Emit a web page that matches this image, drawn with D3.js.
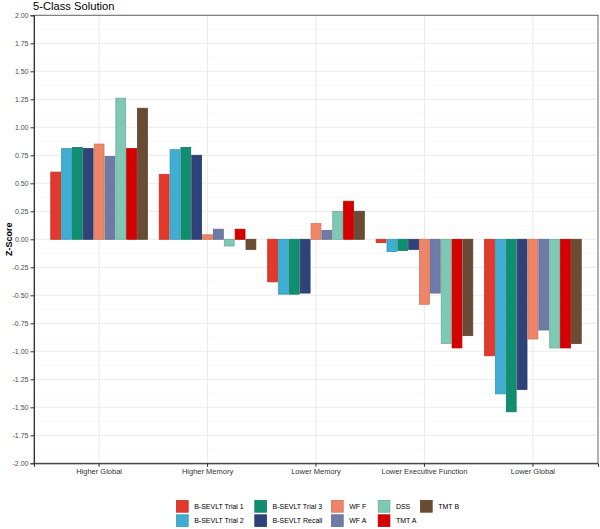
<!DOCTYPE html>
<html>
<head>
<meta charset="utf-8">
<script src="https://cdn.jsdelivr.net/npm/d3@7"></script>
<style>
  body { margin: 0; background: #fff; }
  svg { font-family: "Liberation Sans", Arial, sans-serif; }
</style>
</head>
<body>
<div id="chart"></div>
<script>
var categories = ["Higher Global", "Higher Memory", "Lower Memory", "Lower Executive Function", "Lower Global"];
var seriesNames = ["B-SEVLT Trial 1", "B-SEVLT Trial 2", "B-SEVLT Trial 3", "B-SEVLT Recall", "WF F", "WF A", "DSS", "TMT A", "TMT B"];
var seriesColors = ["#E2392D", "#3FAED2", "#0F8F70", "#2F4279", "#EF8568", "#6F7BA6", "#7EC8B4", "#D40000", "#6A4B33"];

// one array per test, values in category order
var trial1 = [0.60, 0.58, -0.38, -0.03, -1.04];
var trial2 = [0.81, 0.80, -0.49, -0.11, -1.38];
var trial3 = [0.82, 0.82, -0.49, -0.10, -1.54];
var recall = [0.81, 0.75, -0.48, -0.09, -1.34];
var wfF = [0.85, 0.04, 0.14, -0.58, -0.89];
var wfA = [0.74, 0.09, 0.08, -0.48, -0.81];
var dss = [1.26, -0.06, 0.25, -0.93, -0.97];
var tmtA = [0.81, 0.09, 0.34, -0.97, -0.97];
var tmtB = [1.17, -0.09, 0.25, -0.86, -0.93];
var yTicks = [-2, -1.75, -1.5, -1.25, -1, -0.75, -0.5, -0.25, 0, 0.25, 0.5, 0.75, 1, 1.25, 1.5, 1.75, 2];

var values = [trial1, trial2, trial3, recall, wfF, wfA, dss, tmtA, tmtB];

var w = 600, h = 529,
	pLeft = 34, pRight = 598, pTop = 15.3, pBottom = 463.3;

var svg = d3.select("#chart").append("svg")
	.attr("width", w)
	.attr("height", h);

var x0 = d3.scaleBand()
	.domain(categories)
	.range([pLeft, pRight])
	.paddingInner(0.1)
	.paddingOuter(0.15);

var x1 = d3.scaleBand()
	.domain(seriesNames)
	.range([0, x0.bandwidth()]);

var y = d3.scaleLinear()
	.domain([-2, 2])
	.range([pBottom, pTop]);

var color = d3.scaleOrdinal().domain(seriesNames).range(seriesColors);
function edge(s) { return d3.color(color(s)).darker(0.4).toString(); }

// minor grid
var minor = d3.range(-1.875, 2, 0.25);
svg.selectAll(".minor")
	.data(minor)
	.enter().append("line")
	.attr("x1", pLeft).attr("x2", pRight)
	.attr("y1", function(d) { return y(d); })
	.attr("y2", function(d) { return y(d); })
	.attr("stroke", "#f2f2f2")
	.attr("stroke-width", 0.6);

// major grid
svg.selectAll(".major")
	.data(yTicks)
	.enter().append("line")
	.attr("x1", pLeft).attr("x2", pRight)
	.attr("y1", function(d) { return y(d); })
	.attr("y2", function(d) { return y(d); })
	.attr("stroke", "#ebebeb")
	.attr("stroke-width", 1.1);

svg.selectAll(".vgrid")
	.data(categories)
	.enter().append("line")
	.attr("x1", function(d) { return x0(d) + x0.bandwidth() / 2; })
	.attr("x2", function(d) { return x0(d) + x0.bandwidth() / 2; })
	.attr("y1", pTop).attr("y2", pBottom)
	.attr("stroke", "#ebebeb")
	.attr("stroke-width", 1.1);

// bars
var group = svg.selectAll(".group")
	.data(categories)
	.enter().append("g")
	.attr("transform", function(d) { return "translate(" + x0(d) + ",0)"; });

group.selectAll("rect")
	.data(function(d, i) {
		return seriesNames.map(function(s, j) { return {s: s, v: values[j][i]}; });
	})
	.enter().append("rect")
	.attr("x", function(d) { return x1(d.s) + 0.5; })
	.attr("width", x1.bandwidth() - 1)
	.attr("y", function(d) { return y(Math.max(0, d.v)); })
	.attr("height", function(d) { return Math.abs(y(d.v) - y(0)); })
	.attr("fill", function(d) { return color(d.s); })
	.attr("stroke", function(d) { return edge(d.s); })
	.attr("stroke-width", 0.8);

// panel border
svg.append("rect")
	.attr("x", pLeft).attr("y", pTop)
	.attr("width", pRight - pLeft).attr("height", pBottom - pTop)
	.attr("fill", "none")
	.attr("stroke", "#666")
	.attr("stroke-width", 1);

// axes
var yAxis = svg.append("g")
	.attr("transform", "translate(" + pLeft + ",0)")
	.call(d3.axisLeft(y).tickValues(yTicks).tickFormat(d3.format(".2f")).tickSize(3.5).tickPadding(2));
yAxis.select(".domain").attr("stroke", "#333");
yAxis.selectAll(".tick line").attr("stroke", "#333");
yAxis.selectAll("text").attr("font-size", 7).attr("fill", "#4d4d4d")
	.text(function(d) { return d3.format(".2f")(d).replace("−", "-"); });

var xAxis = svg.append("g")
	.attr("transform", "translate(0," + pBottom + ")")
	.call(d3.axisBottom(x0).tickSize(3.5).tickPadding(2));
xAxis.select(".domain").attr("stroke", "#333");
xAxis.selectAll(".tick line").attr("stroke", "#333");
xAxis.selectAll("text").attr("font-size", 7.5).attr("fill", "#333");

// titles
svg.append("text")
	.attr("x", 33).attr("y", 9.5)
	.attr("font-size", 11.2)
	.attr("fill", "#000")
	.text("5-Class Solution");

svg.append("text")
	.attr("transform", "translate(12," + ((pTop + pBottom) / 2) + ") rotate(-90)")
	.attr("text-anchor", "middle")
	.attr("font-size", 9)
	.attr("font-weight", "bold")
	.text("Z-Score");

// legend, filled by column in two rows
var colX = [176, 254.3, 331, 377.7, 420];
var rowY = [500, 514.3];
var key = 12.7;
var legend = svg.selectAll(".legend")
	.data(seriesNames)
	.enter().append("g")
	.attr("transform", function(d, i) {
		return "translate(" + colX[Math.floor(i / 2)] + "," + rowY[i % 2] + ")";
	});
legend.append("rect")
	.attr("x", 0.5).attr("y", 0.5)
	.attr("width", key - 1).attr("height", key - 1)
	.attr("fill", function(d) { return color(d); })
	.attr("stroke", function(d) { return edge(d); })
	.attr("stroke-width", 0.8);
legend.append("text")
	.attr("x", key + 5.5)
	.attr("y", key / 2)
	.attr("dy", "0.35em")
	.attr("font-size", 7)
	.attr("fill", "#000")
	.text(function(d) { return d; });
</script>
</body>
</html>
